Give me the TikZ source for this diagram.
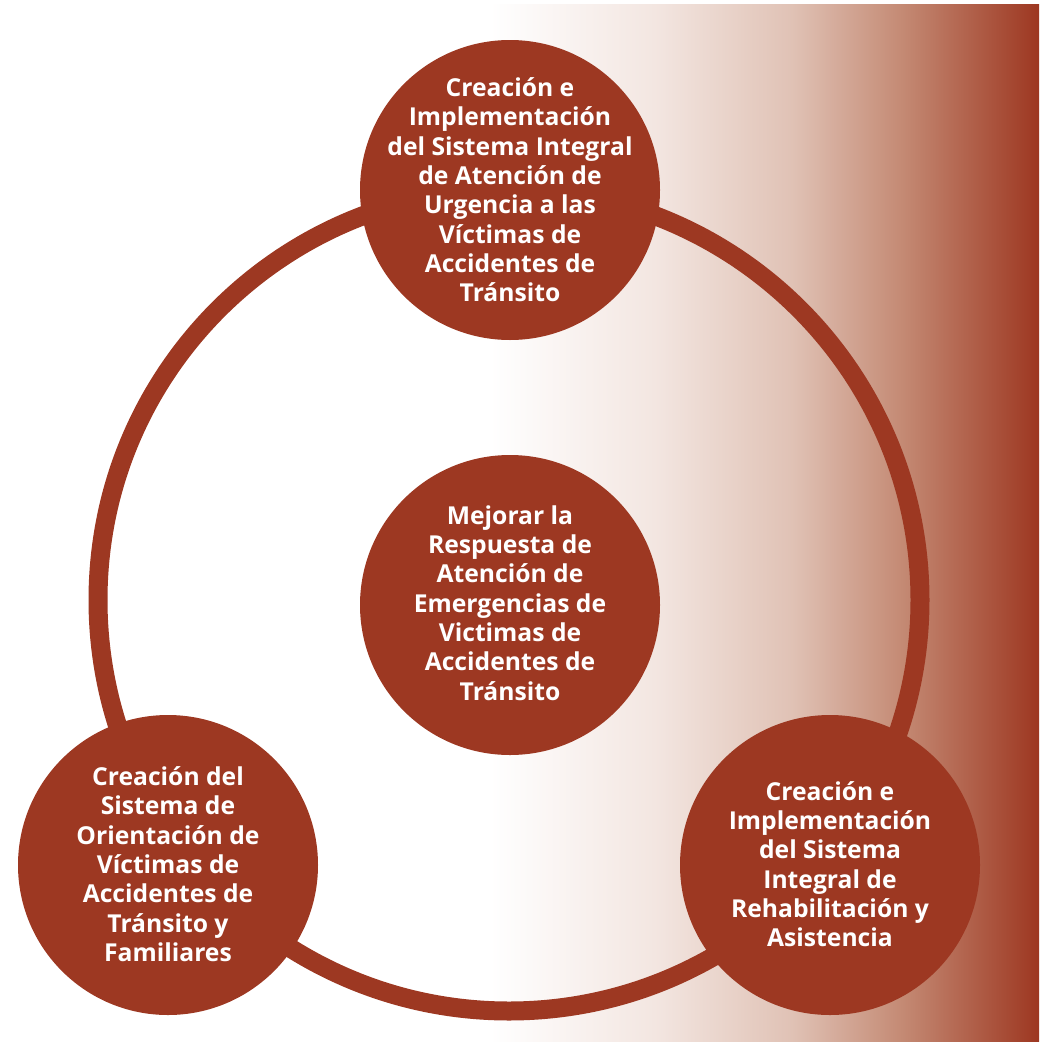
\documentclass[tikz,border=0pt]{standalone}
\usepackage{fontspec}
\setmainfont{Open Sans}
\usepackage{tikz}

\definecolor{brick}{RGB}{157,56,34}
% fade from white to brick red, left to right (path spans 25bp--75bp)
\pgfdeclarehorizontalshading{sidefade}{100bp}{rgb(0bp)=(1,1,1); rgb(25bp)=(1,1,1); rgb(40bp)=(0.953,0.902,0.882); rgb(52.5bp)=(0.878,0.76,0.71); rgb(62.5bp)=(0.769,0.541,0.455); rgb(75bp)=(0.616,0.216,0.129); rgb(100bp)=(0.616,0.216,0.129)}

\tikzset{
  bubtext/.style={text=white, align=center, inner sep=0.75pt, font=\bfseries\fontsize{18.5}{22}\selectfont},
}

\begin{document}
\begin{tikzpicture}[x=0.75pt,y=0.75pt,yscale=-1,xscale=1]
\useasboundingbox (0,0) rectangle (1039,1042);

%Shape: Gradient band
\shade[shading=sidefade] (490,4) rectangle (1039,1042);

%Shape: Ring
\draw[brick, line width=14.25pt] (509,600) circle (308.25pt);

%Shape: Circle (top)
\fill[brick] (510,190) circle (112.5pt);
%Shape: Circle (centre)
\fill[brick] (510,605) circle (112.5pt);
%Shape: Circle (bottom left)
\fill[brick] (168,865) circle (112.5pt);
%Shape: Circle (bottom right)
\fill[brick] (830,865) circle (112.5pt);

% Text Node
\node[bubtext] (urgencia) at (510,190) {Creación e\\Implementación\\del Sistema Integral\\de Atención de\\Urgencia a las\\Víctimas de\\Accidentes de\\Tránsito};
% Text Node
\node[bubtext] (mejorar) at (510,603) {Mejorar la\\Respuesta de\\Atención de\\Emergencias de\\Victimas de\\Accidentes de\\Tránsito};
% Text Node
\node[bubtext] (orientacion) at (168,864) {Creación del\\Sistema de\\Orientación de\\Víctimas de\\Accidentes de\\Tránsito y\\Familiares};
% Text Node
\node[bubtext] (rehab) at (830,864) {Creación e\\Implementación\\del Sistema\\Integral de\\Rehabilitación y\\Asistencia};

\end{tikzpicture}
\end{document}
